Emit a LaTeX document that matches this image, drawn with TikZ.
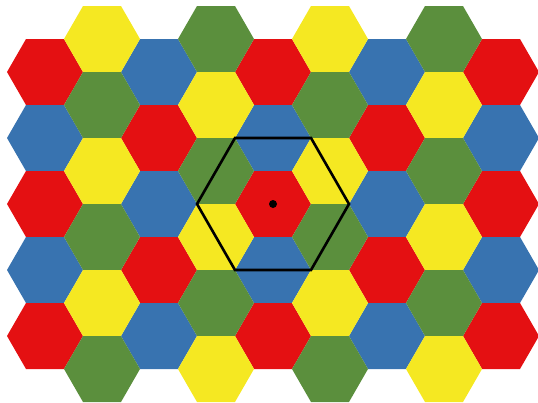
\documentclass[tikz,border=0pt]{standalone}
\definecolor{hred}{RGB}{228,16,18}
\definecolor{hyellow}{RGB}{245,232,34}
\definecolor{hblue}{RGB}{56,115,176}
\definecolor{hgreen}{RGB}{91,143,61}
\begin{document}
\begin{tikzpicture}[x=1pt,y=-1pt,
  hexcell/.style={line join=miter},
  outline/.style={draw=black,line width=2.6pt,line join=miter},
  centerdot/.style={circle,fill=black,inner sep=0pt,minimum size=8pt}]
\useasboundingbox (0,0) rectangle (538,402);
% even columns: 5 cells
\foreach \i/\a/\b in {0/hred/hblue,2/hblue/hred,4/hred/hblue,6/hblue/hred,8/hred/hblue}{
  \foreach \j in {0,...,4}{
    \pgfmathsetmacro\cx{45+57*\i}
    \pgfmathsetmacro\cy{72+66*\j}
    \ifodd\j\def\cc{\b}\else\def\cc{\a}\fi
    \fill[hexcell,\cc,shift={(\cx,\cy)}] (-38,0) -- (-19,-33) -- (19,-33) -- (38,0) -- (19,33) -- (-19,33) -- cycle;
  }
}
% odd columns: 6 cells
\foreach \i/\a/\b in {1/hyellow/hgreen,3/hgreen/hyellow,5/hyellow/hgreen,7/hgreen/hyellow}{
  \foreach \j in {0,...,5}{
    \pgfmathsetmacro\cx{45+57*\i}
    \pgfmathsetmacro\cy{39+66*\j}
    \ifodd\j\def\cc{\b}\else\def\cc{\a}\fi
    \fill[hexcell,\cc,shift={(\cx,\cy)}] (-38,0) -- (-19,-33) -- (19,-33) -- (38,0) -- (19,33) -- (-19,33) -- cycle;
  }
}
% black hexagon
\coordinate (c) at (273,204);
\draw[outline,shift={(273,204)}] (-76,0) -- (-38,-66) -- (38,-66) -- (76,0) -- (38,66) -- (-38,66) -- cycle;
\node[centerdot] (dot) at (c) {};
\end{tikzpicture}
\end{document}
